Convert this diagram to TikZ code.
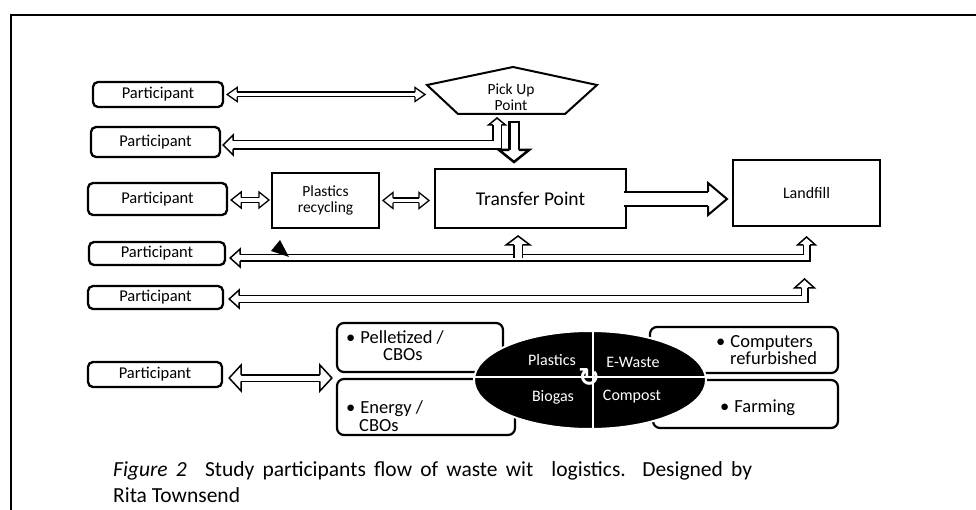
\documentclass[tikz,border=0pt]{standalone}
\usepackage{fontspec}
\setmainfont{Carlito}
\newfontfamily\symfont{DejaVu Sans}
\usetikzlibrary{shapes.geometric, calc}

% open block-arrow head: line width, tip, direction, length, half width, half shaft
\newcommand{\ahead}[6]{%
  \begin{scope}[shift={#2}, rotate=#3]
    \fill[white] (-#4,#6) -- (-#4,#5) -- (0,0) -- (-#4,-#5) -- (-#4,-#6) -- cycle;
    \draw[line width=#1] (-#4,#6) -- (-#4,#5) -- (0,0) -- (-#4,-#5) -- (-#4,-#6);
  \end{scope}}

\begin{document}
\begin{tikzpicture}[
    x=1pt, y=-1pt,
    pbox/.style={draw, line width=2.3pt, rounded corners=5pt, minimum width=134pt, minimum height=25pt, inner sep=0pt, font=\fontsize{16.5}{16}\selectfont},
    sqbox/.style={draw, line width=2pt, inner sep=0pt, align=center},
    bbox/.style={draw, line width=2.2pt, rounded corners=7pt, inner sep=0pt},
    btext/.style={anchor=base west, inner sep=0pt, font=\fontsize{18.5}{18}\selectfont},
    wtext/.style={anchor=base, inner sep=0pt, text=white, font=\fontsize{16}{16}\selectfont},
    hollow/.style 2 args={draw, double=white, line width=#1, double distance=#2}
]
    \useasboundingbox (0,0) rectangle (976,510);
    \draw[line width=2.5pt] (11,530) |- (990,15);

    % participants
    \node[pbox, minimum width=130pt] (p1) at (158,94.5) {Participant};
    \node[pbox, minimum width=129pt, minimum height=30pt] (p2) at (155.5,142) {Participant};
    \node[pbox, minimum width=139pt, minimum height=32pt] (p3) at (157.5,199) {Participant};
    \node[pbox, minimum width=136pt, minimum height=23pt] (p4) at (157,253.5) {Participant};
    \node[pbox, minimum width=135pt, minimum height=23pt] (p5) at (155.5,297.5) {Participant};
    \node[pbox] (p6) at (155,374.5) {Participant};

    % pick up point
    \coordinate (pk1) at (427,85);
    \coordinate (pk2) at (513,67);
    \coordinate (pk3) at (597,85);
    \coordinate (pk4) at (565,114);
    \coordinate (pk5) at (458,114);
    \draw[line width=2pt] (pk1) -- (pk2) -- (pk3) -- (pk4) -- (pk5) -- cycle;
    \node[align=center, inner sep=0pt, font=\fontsize{15.5}{16}\selectfont] (pick) at (511,97) {Pick Up\\Point};

    \node[sqbox, minimum width=107pt, minimum height=55pt, font=\fontsize{15.5}{16}\selectfont] (plastics) at (325.5,200.5) {Plastics\\recycling};
    \node[sqbox, minimum width=191pt, minimum height=59pt, font=\fontsize{19.5}{20}\selectfont] (transfer) at (530.5,198.5) {Transfer Point};
    \node[sqbox, minimum width=147pt, minimum height=66pt, font=\fontsize{16}{16}\selectfont] (landfill) at (806.5,193) {Landfill};

    % products
    \node[bbox, minimum width=166pt, minimum height=49pt] (pellet) at (420,347.5) {};
    \node[bbox, minimum width=178pt, minimum height=56pt] (energy) at (426,407) {};
    \node[bbox, minimum width=188pt, minimum height=46pt] (computers) at (744,350) {};
    \node[bbox, minimum width=185pt, minimum height=48pt] (farming) at (745.5,404) {};
    \node[btext] (pellet1) at (346,343) {\textbullet\hspace{5pt}Pelletized /};
    \node[btext] (pellet2) at (383,360) {CBOs};
    \node[btext] (energy1) at (346,413) {\textbullet\hspace{5pt}Energy /};
    \node[btext] (energy2) at (359,431) {CBOs};
    \node[btext] (comp1) at (716,347) {\textbullet\hspace{5pt}Computers};
    \node[btext] (comp2) at (730,364) {refurbished};
    \node[btext] (farm1) at (720,412) {\textbullet\hspace{5pt}Farming};

    % waste streams
    \node[ellipse, fill=black, draw=white, line width=2pt, minimum width=232pt, minimum height=98pt] (waste) at (590,380) {};
    \draw[white, line width=2pt] ([xshift=3pt]waste.north) -- ([xshift=3pt]waste.south);
    \draw[white, line width=2pt] ([yshift=3pt]waste.west) -- ([yshift=3pt]waste.east);
    \node[wtext] (wplastics) at (552,365) {Plastics};
    \node[wtext] (wewaste) at (633,367) {E-Waste};
    \node[wtext] (wbiogas) at (553,401) {Biogas};
    \node[wtext] (wcompost) at (632,400) {Compost};
    \node[inner sep=0pt, text=white, font=\symfont\bfseries\fontsize{26}{26}\selectfont] (cycle) at (589,378) {↻};

    % arrow end points
    \coordinate (a1l) at ($(p1.east)+(3,0)$);
    \coordinate (a1r) at ($(a1l -| pk1)+(-2,0)$);
    \coordinate (a2l) at ($(p2.east)+(2,3)$);
    \coordinate (a2u) at ($(pk5)+(39,4)$);
    \coordinate (a3s) at ($(pk5)+(56,13)$);
    \coordinate (a3t) at ($(a3s |- transfer.north)+(0,-6)$);
    \coordinate (a4l) at ($(p3.east)+(3,1)$);
    \coordinate (a4r) at ($(a4l -| plastics.west)+(-2,0)$);
    \coordinate (a5l) at ($(plastics.east)+(3,0)$);
    \coordinate (a5r) at ($(a5l -| transfer.west)+(-5,0)$);
    \coordinate (a6s) at ($(transfer.east)+(-3,0.5)$);
    \coordinate (a6t) at ($(a6s -| landfill.west)+(-5,0)$);
    \coordinate (a7l) at ($(p4.east)+(4,4.5)$);
    \coordinate (a7u) at ($(landfill.south)+(0,10)$);
    \coordinate (a7b) at ($(transfer.south)+(-12.5,7)$);
    \coordinate (a8l) at ($(p5.east)+(5,1.5)$);
    \coordinate (a8u) at ($(landfill.south)+(-2,52)$);
    \coordinate (a9l) at ($(p6.east)+(6,3.5)$);
    \coordinate (a9r) at ($(a9l -| pellet.west)+(-4,0)$);

    % shafts
    \draw[hollow={1.3pt}{3.4pt}, shorten <=10pt, shorten >=10pt] (a1l) -- (a1r);
    \draw[hollow={1.5pt}{7pt}, shorten <=10pt, shorten >=7pt] (a2l) -| (a2u);
    \draw[hollow={2.5pt}{7pt}, line cap=rect, shorten >=12pt] (a3s) -- (a3t);
    \draw[hollow={1.3pt}{3.4pt}, shorten <=10pt, shorten >=10pt] (a4l) -- (a4r);
    \draw[hollow={1.3pt}{3.4pt}, shorten <=10pt, shorten >=10pt] (a5l) -- (a5r);
    \draw[hollow={2pt}{12pt}, shorten >=19pt] (a6s) -- (a6t);
    \draw[hollow={1.5pt}{5pt}, shorten <=10pt, shorten >=8pt] (a7l) -| (a7u);
    \draw[hollow={1.5pt}{7pt}, shorten >=9pt] (a7b |- a7l) -- (a7b);
    \draw[hollow={1.5pt}{5pt}, shorten <=10pt, shorten >=9pt] (a8l) -| (a8u);
    \draw[hollow={1.5pt}{5pt}, shorten <=12pt, shorten >=12pt] (a9l) -- (a9r);

    % heads
    \ahead{1.3pt}{(a1l)}{180}{10}{7}{2.35}
    \ahead{1.3pt}{(a1r)}{0}{10}{7}{2.35}
    \ahead{1.5pt}{(a2l)}{180}{10}{10}{4.25}
    \ahead{1.5pt}{(a2u)}{90}{7}{8.5}{4.25}
    \ahead{2.5pt}{(a3t)}{-90}{12}{15}{4.75}
    \ahead{1.3pt}{(a4l)}{180}{10}{8}{2.35}
    \ahead{1.3pt}{(a4r)}{0}{10}{8}{2.35}
    \ahead{1.3pt}{(a5l)}{180}{10}{8}{2.35}
    \ahead{1.3pt}{(a5r)}{0}{10}{8}{2.35}
    \ahead{2pt}{(a6t)}{0}{19}{16}{7}
    \ahead{1.5pt}{(a7l)}{180}{10}{9}{3.25}
    \ahead{1.5pt}{(a7u)}{90}{8}{9}{3.25}
    \ahead{1.5pt}{(a7b)}{90}{9}{12}{4.25}
    \ahead{1.5pt}{(a8l)}{180}{10}{9}{3.25}
    \ahead{1.5pt}{(a8u)}{90}{9}{10}{3.25}
    \ahead{1.5pt}{(a9l)}{180}{12}{13}{3.25}
    \ahead{1.5pt}{(a9r)}{0}{12}{13}{3.25}

    \fill (271,251) -- (280,240) -- (289,257) -- cycle;

    % caption, justified first line
    \node[anchor=base west, inner sep=0pt, font=\fontsize{21.5}{24}\selectfont] (caption1) at (113,476)
      {\makebox[639pt][s]{\textit{Figure 2}\hspace{10pt} Study participants flow of waste wit\hspace{10pt} logistics. Designed by}};
    \node[anchor=base west, inner sep=0pt, font=\fontsize{21.5}{24}\selectfont] (caption2) at (113,502) {Rita Townsend};
\end{tikzpicture}
\end{document}
